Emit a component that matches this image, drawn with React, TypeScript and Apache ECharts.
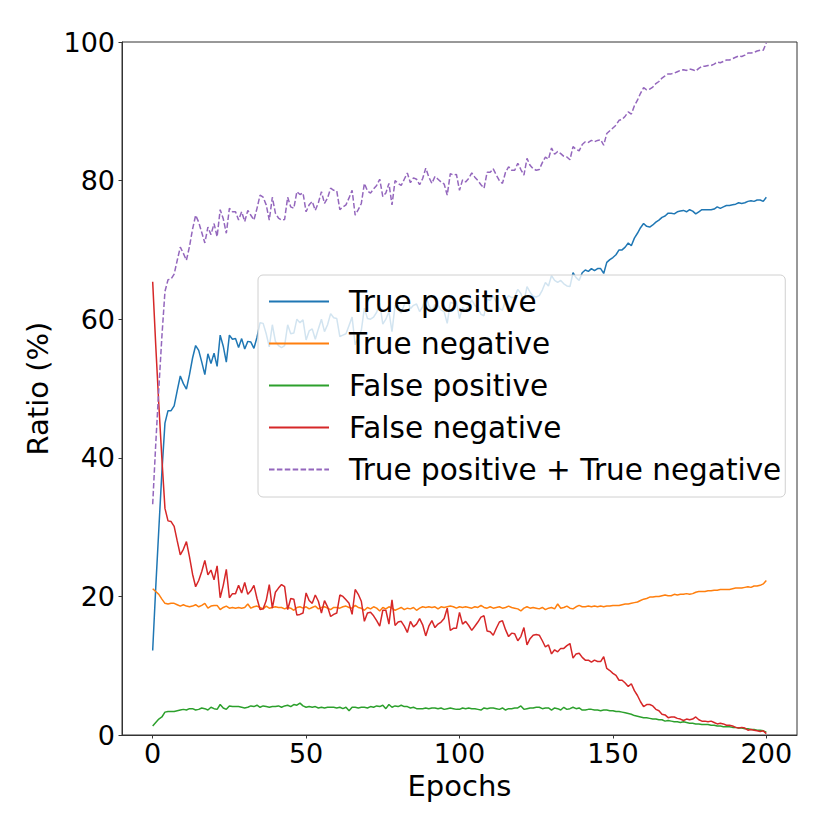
import React, { useEffect, useRef } from "react";
import * as echarts from "echarts";

const seriesNames = [
  "True positive",
  "True negative",
  "False positive",
  "False negative",
  "True positive + True negative",
];

const truePositive = [
  12.2, 21.3, 29.7, 37.9, 45.0, 46.8, 46.8, 47.5, 49.7, 51.8,
  50.7, 49.9, 52.0, 54.4, 56.2, 55.5, 53.8, 52.0, 55.0, 53.6,
  55.1, 53.2, 57.7, 56.1, 53.8, 57.7, 57.1, 57.2, 55.9, 57.2,
  55.7, 56.8, 56.7, 55.8, 57.4, 59.5, 59.4, 57.9, 56.0, 59.2,
  56.8, 56.2, 55.9, 56.2, 59.2, 57.9, 58.0, 60.0, 59.5, 59.9,
  57.0, 58.3, 58.6, 57.1, 58.6, 60.0, 58.2, 59.2, 60.8, 60.2,
  60.1, 57.5, 57.7, 57.9, 59.1, 60.3, 56.3, 57.4, 58.4, 61.6,
  60.1, 60.0, 60.3, 61.0, 62.3, 59.3, 60.0, 61.1, 58.2, 62.0,
  61.4, 60.9, 62.1, 62.8, 61.5, 62.0, 62.2, 61.1, 61.8, 63.4,
  62.0, 61.2, 62.1, 62.0, 61.3, 61.1, 59.4, 62.4, 62.3, 62.6,
  60.1, 61.7, 61.3, 61.9, 62.8, 62.0, 61.6, 60.7, 60.5, 62.9,
  62.7, 63.4, 62.4, 61.5, 61.3, 62.8, 63.4, 63.1, 63.2, 64.3,
  63.7, 62.5, 64.7, 63.9, 63.3, 63.2, 63.4, 64.2, 65.3, 64.8,
  66.3, 65.6, 65.3, 65.6, 65.1, 64.8, 64.7, 66.7, 66.0, 65.6,
  66.7, 67.1, 66.9, 67.3, 67.0, 67.3, 67.3, 66.6, 68.2, 68.6,
  68.9, 69.3, 70.0, 70.0, 70.4, 71.0, 70.6, 71.7, 72.4, 73.2,
  73.8, 73.4, 73.3, 73.6, 74.0, 74.3, 74.7, 74.9, 75.3, 75.3,
  75.2, 75.5, 75.6, 75.7, 75.5, 75.8, 75.6, 75.2, 75.5, 75.8,
  75.8, 75.8, 75.8, 75.9, 76.2, 76.0, 76.2, 76.4, 76.4, 76.5,
  76.6, 76.8, 76.7, 76.8, 77.0, 77.1, 77.0, 77.2, 77.2, 77.0,
  77.6,
];

const trueNegative = [
  21.1, 20.7, 20.3, 19.6, 19.0, 18.9, 19.0, 19.0, 18.8, 18.6,
  18.8, 18.6, 18.5, 18.6, 18.8, 18.5, 18.7, 19.0, 18.3, 18.6,
  18.7, 18.7, 18.1, 18.4, 18.6, 18.3, 18.4, 18.3, 18.4, 18.3,
  18.4, 18.9, 18.3, 18.5, 18.6, 18.4, 18.2, 18.6, 18.3, 18.4,
  18.5, 18.4, 18.4, 18.2, 18.4, 18.3, 18.0, 18.4, 18.5, 18.3,
  18.5, 18.2, 18.4, 18.6, 18.2, 18.4, 18.5, 18.3, 18.1, 18.4,
  18.4, 18.3, 18.5, 18.6, 18.4, 18.3, 18.7, 18.4, 18.3, 18.0,
  18.4, 18.2, 18.5, 18.3, 17.9, 18.4, 18.2, 18.5, 18.3, 18.0,
  18.2, 18.4, 18.1, 18.3, 18.2, 18.4, 18.0, 18.3, 18.5, 18.4,
  18.5, 18.4, 18.5, 18.2, 18.5, 18.4, 18.5, 18.6, 18.5, 18.3,
  18.5, 18.4, 18.5, 18.4, 18.3, 18.5, 18.4, 18.7, 18.4, 18.3,
  18.5, 18.3, 18.4, 18.5, 18.3, 18.4, 18.6, 18.4, 18.3, 18.2,
  17.9, 18.3, 18.5, 18.3, 18.4, 18.3, 18.2, 18.4, 18.1, 18.3,
  18.4, 18.2, 18.9, 18.3, 18.4, 18.6, 18.3, 18.2, 18.5, 18.7,
  18.5, 18.5, 18.6, 18.5, 18.6, 18.5, 18.6, 18.5, 18.6, 18.6,
  18.7, 18.7, 18.7, 18.8, 18.9, 18.9, 19.0, 19.1, 19.2, 19.4,
  19.6, 19.7, 19.9, 19.9, 20.0, 20.0, 20.1, 20.2, 20.1, 20.1,
  20.3, 20.2, 20.3, 20.3, 20.4, 20.3, 20.4, 20.6, 20.7, 20.7,
  20.7, 20.8, 20.8, 20.9, 20.9, 21.0, 21.0, 21.0, 21.0, 21.1,
  21.2, 21.2, 21.2, 21.3, 21.4, 21.3, 21.5, 21.5, 21.6, 21.8,
  22.3,
];

const falsePositive = [
  1.3, 1.8, 2.3, 2.6, 3.3, 3.4, 3.4, 3.4, 3.5, 3.6,
  3.7, 3.6, 3.8, 3.8, 3.6, 3.7, 3.9, 3.8, 3.6, 4.0,
  3.8, 3.7, 4.4, 3.9, 3.7, 4.2, 4.1, 4.1, 4.1, 4.0,
  3.9, 4.0, 4.2, 4.1, 4.3, 4.0, 4.2, 4.1, 4.0, 4.1,
  4.1, 4.2, 4.0, 4.2, 4.3, 4.1, 4.4, 4.3, 4.6, 4.2,
  4.0, 4.1, 4.0, 4.1, 3.9, 4.0, 3.9, 4.0, 4.0, 4.0,
  3.9, 4.0, 3.8, 4.0, 3.5, 4.0, 4.0, 3.9, 4.0, 4.0,
  3.9, 4.1, 4.0, 4.2, 4.1, 4.3, 3.8, 4.4, 4.0, 4.2,
  4.1, 4.3, 4.1, 4.1, 3.9, 4.0, 3.8, 3.8, 3.8, 3.9,
  3.8, 3.9, 3.9, 3.8, 3.9, 3.7, 3.8, 3.9, 3.8, 3.7,
  3.7, 3.9, 3.8, 3.9, 3.8, 3.8, 3.7, 3.6, 3.9, 3.8,
  3.9, 3.9, 3.8, 3.7, 3.9, 3.6, 3.8, 3.8, 3.9, 3.9,
  4.2, 3.7, 3.8, 3.9, 3.9, 4.0, 4.0, 3.8, 3.9, 3.9,
  3.6, 3.9, 3.8, 3.6, 4.0, 3.7, 3.8, 4.0, 3.8, 3.9,
  3.6, 3.6, 3.7, 3.7, 3.6, 3.6, 3.5, 3.6, 3.6, 3.5,
  3.5, 3.4, 3.4, 3.3, 3.2, 3.1, 3.0, 2.8, 2.7, 2.6,
  2.5, 2.5, 2.4, 2.3, 2.3, 2.2, 2.2, 2.0, 2.1, 2.0,
  1.9, 1.9, 1.8, 1.9, 1.8, 1.7, 1.7, 1.6, 1.6, 1.5,
  1.5, 1.5, 1.4, 1.4, 1.3, 1.3, 1.2, 1.2, 1.2, 1.1,
  1.1, 1.0, 1.0, 0.9, 0.9, 0.8, 0.8, 0.7, 0.7, 0.6,
  0.4,
];

const falseNegative = [
  65.4, 56.2, 47.7, 39.9, 32.7, 30.9, 30.8, 30.1, 28.0, 26.0,
  26.8, 27.9, 25.7, 23.2, 21.4, 22.3, 23.6, 25.2, 23.1, 23.8,
  22.4, 24.4, 19.8, 21.6, 23.9, 19.8, 20.4, 20.4, 21.6, 20.5,
  22.0, 20.3, 20.8, 21.6, 19.7, 18.1, 18.2, 19.4, 21.7, 18.3,
  20.6, 21.2, 21.7, 21.4, 18.1, 19.7, 19.6, 17.3, 17.4, 17.6,
  20.5, 19.4, 19.0, 20.2, 19.3, 17.6, 19.4, 18.5, 17.1, 17.4,
  17.6, 20.2, 20.0, 19.5, 19.0, 17.4, 21.0, 20.3, 19.3, 16.4,
  17.6, 17.7, 17.2, 16.5, 15.7, 18.0, 18.0, 16.0, 19.5, 15.8,
  16.3, 16.4, 15.7, 14.8, 16.4, 15.6, 16.0, 16.8, 15.9, 14.3,
  15.7, 16.5, 15.5, 16.0, 16.3, 16.8, 18.3, 15.1, 15.4, 15.4,
  17.7, 16.0, 16.4, 15.8, 15.1, 15.7, 16.3, 17.0, 17.2, 15.0,
  14.9, 14.4, 15.4, 16.3, 16.5, 15.2, 14.2, 14.7, 14.6, 13.6,
  14.2, 15.5, 13.0, 13.9, 14.4, 14.5, 14.4, 13.6, 12.7, 13.0,
  11.7, 12.3, 12.0, 12.5, 12.5, 12.9, 13.2, 11.1, 11.7, 11.8,
  11.2, 10.8, 10.8, 10.5, 10.8, 10.6, 10.6, 11.3, 9.6, 9.3,
  8.9, 8.6, 7.9, 7.9, 7.5, 7.0, 7.4, 6.4, 5.7, 4.8,
  4.1, 4.4, 4.4, 4.2, 3.7, 3.5, 3.0, 2.9, 2.5, 2.6,
  2.6, 2.4, 2.3, 2.1, 2.3, 2.2, 2.3, 2.6, 2.2, 2.0,
  2.0, 1.9, 2.0, 1.8, 1.6, 1.7, 1.6, 1.4, 1.4, 1.3,
  1.1, 1.0, 1.1, 1.0, 0.7, 0.8, 0.7, 0.6, 0.5, 0.6,
  0.2,
];

const truePositivePlusTrueNegative = [
  33.3, 42.0, 50.0, 57.5, 64.0, 65.7, 65.8, 66.5, 68.5, 70.4,
  69.5, 68.5, 70.5, 73.0, 75.0, 74.0, 72.5, 71.0, 73.3, 72.2,
  73.8, 71.9, 75.8, 74.5, 72.4, 76.0, 75.5, 75.5, 74.3, 75.5,
  74.1, 75.7, 75.0, 74.3, 76.0, 77.9, 77.6, 76.5, 74.3, 77.6,
  75.3, 74.6, 74.3, 74.4, 77.6, 76.2, 76.0, 78.4, 78.0, 78.2,
  75.5, 76.5, 77.0, 75.7, 76.8, 78.4, 76.7, 77.5, 78.9, 78.6,
  78.5, 75.8, 76.2, 76.5, 77.5, 78.6, 75.0, 75.8, 76.7, 79.6,
  78.5, 78.2, 78.8, 79.3, 80.2, 77.7, 78.2, 79.6, 76.5, 80.0,
  79.6, 79.3, 80.2, 81.1, 79.7, 80.4, 80.2, 79.4, 80.3, 81.8,
  80.5, 79.6, 80.6, 80.2, 79.8, 79.5, 77.9, 81.0, 80.8, 80.9,
  78.6, 80.1, 79.8, 80.3, 81.1, 80.5, 80.0, 79.4, 78.9, 81.2,
  81.2, 81.7, 80.8, 80.0, 79.6, 81.2, 82.0, 81.5, 81.5, 82.5,
  81.6, 80.8, 83.2, 82.2, 81.7, 81.5, 81.6, 82.6, 83.4, 83.1,
  84.7, 83.8, 84.2, 83.9, 83.5, 83.4, 83.0, 84.9, 84.5, 84.3,
  85.2, 85.6, 85.5, 85.8, 85.6, 85.8, 85.9, 85.1, 86.8, 87.2,
  87.6, 88.0, 88.7, 88.8, 89.3, 89.9, 89.6, 90.8, 91.6, 92.6,
  93.4, 93.1, 93.2, 93.5, 94.0, 94.3, 94.8, 95.1, 95.4, 95.4,
  95.5, 95.7, 95.9, 96.0, 95.9, 96.1, 96.0, 95.8, 96.2, 96.5,
  96.5, 96.6, 96.6, 96.8, 97.1, 97.0, 97.2, 97.4, 97.4, 97.6,
  97.8, 98.0, 97.9, 98.1, 98.4, 98.4, 98.5, 98.7, 98.8, 98.8,
  99.9,
];

const xTickValues = [0, 50, 100, 150, 200];

const colors = ["#1f77b4", "#ff7f0e", "#2ca02c", "#d62728", "#9467bd"];
const FONT = "DejaVu Sans";
const SPINE = "#333333";

export default function App() {
  const ref = useRef<HTMLDivElement>(null);

  useEffect(() => {
    document.body.style.margin = "0";
    if (!ref.current) return;
    const chart = echarts.init(ref.current, undefined, { renderer: "svg" });
    const allData = [
      truePositive,
      trueNegative,
      falsePositive,
      falseNegative,
      truePositivePlusTrueNegative,
    ];
    const series = allData.map((arr, k) => ({
      name: seriesNames[k],
      type: "line",
      data: arr.map((v, i) => [i, v]),
      showSymbol: false,
      symbol: "none",
      color: colors[k],
      lineStyle: {
        color: colors[k],
        width: 1.5,
        type: k === 4 ? [5.5, 2.4] : "solid",
      },
      z: 2 + k,
    }));

    chart.setOption({
      animation: false,
      backgroundColor: "#ffffff",
      textStyle: { fontFamily: FONT },
      grid: {
        left: 122,
        right: 33,
        top: 42,
        bottom: 95,
        show: true,
        borderColor: SPINE,
        borderWidth: 1,
        backgroundColor: "transparent",
      },
      legend: {
        orient: "vertical",
        left: 258,
        top: 275,
        padding: [10, 4, 11, 10],
        itemWidth: 60,
        itemHeight: 14,
        itemGap: 9,
        backgroundColor: "rgba(255,255,255,0.8)",
        borderColor: "#d0d0d0",
        borderWidth: 1,
        borderRadius: 5,
        z: 20,
        itemStyle: { opacity: 0 },
        textStyle: {
          fontFamily: FONT,
          fontSize: 29.5,
          color: "#000",
          lineHeight: 33,
          padding: [0, 0, 0, 15],
        },
        data: seriesNames,
      },
      xAxis: {
        type: "value",
        min: -10,
        max: 210,
        name: "Epochs",
        nameLocation: "middle",
        nameGap: 26,
        nameTextStyle: { fontFamily: FONT, fontSize: 29, color: "#000" },
        axisLine: { show: true, onZero: false, lineStyle: { color: SPINE, width: 1 } },
        axisTick: {
          show: true,
          length: 3.5,
          customValues: xTickValues,
          lineStyle: { color: SPINE, width: 1 },
        },
        axisLabel: {
          customValues: xTickValues,
          fontFamily: FONT,
          fontSize: 27,
          color: "#000",
          margin: 5,
        },
        splitLine: { show: false },
      },
      yAxis: {
        type: "value",
        min: 0,
        max: 100,
        interval: 20,
        name: "Ratio (%)",
        nameLocation: "middle",
        nameGap: 58,
        nameRotate: 90,
        nameTextStyle: { fontFamily: FONT, fontSize: 29, color: "#000" },
        axisLine: { show: true, onZero: false, lineStyle: { color: SPINE, width: 1 } },
        axisTick: {
          show: true,
          length: 3.5,
          lineStyle: { color: SPINE, width: 1 },
        },
        axisLabel: {
          fontFamily: FONT,
          fontSize: 27,
          color: "#000",
          margin: 7,
        },
        splitLine: { show: false },
      },
      series,
    });

    return () => {
      chart.dispose();
    };
  }, []);

  return <div ref={ref} style={{ width: 830, height: 830 }} />;
}
